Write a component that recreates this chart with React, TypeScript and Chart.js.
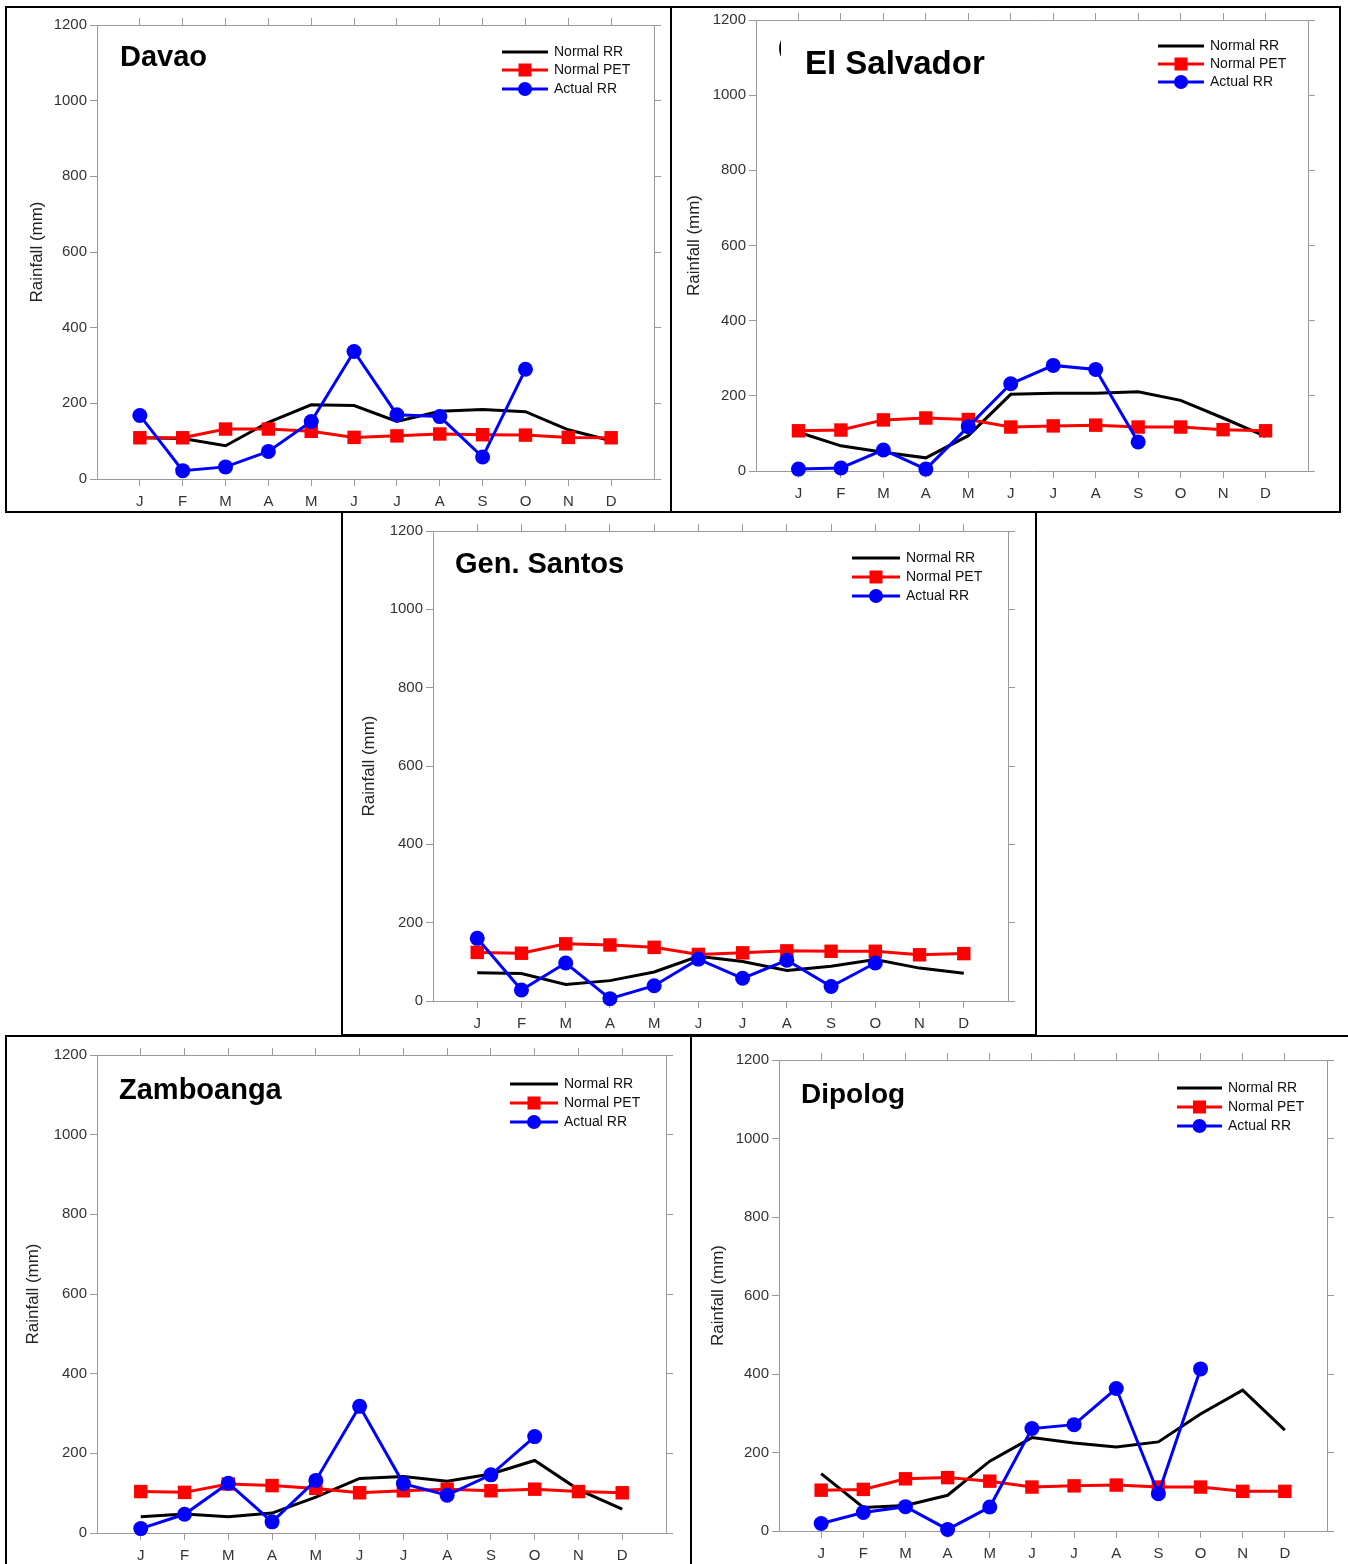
import React, { useEffect, useRef } from "react";
import { Chart, registerables } from "chart.js";

Chart.register(...registerables);

const FONT = '"Liberation Sans", Arial, Helvetica, sans-serif';

const months = ["J", "F", "M", "A", "M", "J", "J", "A", "S", "O", "N", "D"];
const yTicks = [0, 200, 400, 600, 800, 1000, 1200];
const legendLabels = ["Normal RR", "Normal PET", "Actual RR"];
const yTitle = "Rainfall (mm)";

const davaoNormalRR = [109, 107, 88, 150, 196, 194, 152, 179, 184, 178, 130, 101];
const davaoNormalPET = [109, 109, 132, 132, 126, 110, 114, 119, 117, 116, 110, 109];
const davaoActualRR = [168, 22, 32, 73, 152, 337, 170, 165, 58, 290];

const salvadorNormalRR = [103, 67, 50, 35, 94, 204, 207, 207, 211, 188, 141, 92];
const salvadorNormalPET = [107, 109, 136, 141, 137, 117, 120, 122, 117, 117, 110, 107];
const salvadorActualRR = [5, 8, 56, 5, 118, 232, 281, 270, 77];

const santosNormalRR = [72, 70, 42, 52, 74, 114, 101, 78, 89, 106, 84, 71];
const santosNormalPET = [124, 122, 146, 143, 137, 119, 123, 128, 127, 127, 118, 121];
const santosActualRR = [160, 28, 97, 6, 39, 107, 58, 104, 37, 97];

const zamboNormalRR = [41, 48, 41, 50, 90, 137, 142, 130, 148, 182, 109, 60];
const zamboNormalPET = [104, 102, 123, 119, 112, 101, 106, 110, 106, 110, 104, 101];
const zamboActualRR = [11, 47, 125, 28, 132, 318, 124, 95, 146, 242];

const dipologNormalRR = [146, 60, 65, 91, 178, 238, 224, 214, 227, 298, 359, 257];
const dipologNormalPET = [104, 106, 133, 136, 127, 112, 115, 117, 112, 112, 101, 101];
const dipologActualRR = [19, 47, 62, 4, 61, 261, 271, 363, 95, 413];

type PanelCfg = {
  name: string;
  box: [number, number, number, number];
  plot: [number, number, number, number];
  ylabelX: number;
  titleX: number;
  titleBase: number;
  titleSize: number;
  legX0: number;
  legX1: number;
  legTextX: number;
  legY: number[];
  normalRR: number[];
  normalPET: number[];
  actualRR: number[];
  stray?: boolean;
};

const panels: PanelCfg[] = [
  {
    name: "Davao", box: [5, 6, 672, 513], plot: [97, 25, 654, 479],
    ylabelX: 37, titleX: 120, titleBase: 66, titleSize: 29,
    legX0: 502, legX1: 548, legTextX: 554, legY: [52, 70, 89],
    normalRR: davaoNormalRR, normalPET: davaoNormalPET, actualRR: davaoActualRR,
  },
  {
    name: "El Salvador", box: [670, 6, 1341, 513], plot: [756, 19, 1308, 471],
    ylabelX: 694, titleX: 805, titleBase: 74, titleSize: 33,
    legX0: 1158, legX1: 1204, legTextX: 1210, legY: [46, 64, 82],
    normalRR: salvadorNormalRR, normalPET: salvadorNormalPET, actualRR: salvadorActualRR,
    stray: true,
  },
  {
    name: "Gen. Santos", box: [341, 511, 1037, 1036], plot: [433, 531, 1008, 1001],
    ylabelX: 369, titleX: 455, titleBase: 573, titleSize: 29,
    legX0: 852, legX1: 900, legTextX: 906, legY: [558, 577, 596],
    normalRR: santosNormalRR, normalPET: santosNormalPET, actualRR: santosActualRR,
  },
  {
    name: "Zamboanga", box: [5, 1035, 692, 1580], plot: [97, 1055, 666, 1533],
    ylabelX: 33, titleX: 119, titleBase: 1099, titleSize: 29,
    legX0: 510, legX1: 558, legTextX: 564, legY: [1084, 1103, 1122],
    normalRR: zamboNormalRR, normalPET: zamboNormalPET, actualRR: zamboActualRR,
  },
  {
    name: "Dipolog", box: [690, 1035, 1362, 1580], plot: [779, 1060, 1327, 1531],
    ylabelX: 718, titleX: 801, titleBase: 1103, titleSize: 28,
    legX0: 1177, legX1: 1222, legTextX: 1228, legY: [1088, 1107, 1126],
    normalRR: dipologNormalRR, normalPET: dipologNormalPET, actualRR: dipologActualRR,
  },
];

const BORDER = 2;
const AXIS_GRAY = "#9a9a9a";
const TEXT_COL = "#333";

const decoPlugin = {
  id: "deco",
  afterDraw(chart: any, _args: any, opts: any) {
    const p: PanelCfg = opts.panel;
    const ox = p.box[0] + BORDER;
    const oy = p.box[1] + BORDER;
    const ctx: CanvasRenderingContext2D = chart.ctx;
    const area = chart.chartArea;

    // y-axis title
    ctx.save();
    ctx.fillStyle = "#222";
    ctx.font = `17px ${FONT}`;
    ctx.translate(p.ylabelX - ox, (area.top + area.bottom) / 2);
    ctx.rotate(-Math.PI / 2);
    ctx.textAlign = "center";
    ctx.textBaseline = "middle";
    ctx.fillText(yTitle, 0, 0);
    ctx.restore();

    // stray glyph
    if (p.stray) {
      ctx.save();
      ctx.beginPath();
      ctx.rect(p.titleX - 30 - ox, 30 - oy, 6, 40);
      ctx.clip();
      ctx.fillStyle = "#000";
      ctx.font = `bold 22px ${FONT}`;
      ctx.textBaseline = "alphabetic";
      ctx.fillText("(", p.titleX - 27 - ox, 54 - oy);
      ctx.restore();
    }

    // title
    ctx.save();
    ctx.fillStyle = "#000";
    ctx.font = `bold ${p.titleSize}px ${FONT}`;
    ctx.textAlign = "left";
    ctx.textBaseline = "alphabetic";
    ctx.fillText(p.name, p.titleX - ox, p.titleBase - oy);
    ctx.restore();

    // legend
    const colors = ["#000000", "#ff0000", "#0000ff"];
    for (let i = 0; i < 3; i++) {
      const y = p.legY[i] - oy;
      const x0 = p.legX0 - ox;
      const x1 = p.legX1 - ox;
      ctx.save();
      ctx.strokeStyle = colors[i];
      ctx.fillStyle = colors[i];
      ctx.lineWidth = 3;
      ctx.beginPath();
      ctx.moveTo(x0, y);
      ctx.lineTo(x1, y);
      ctx.stroke();
      const cx = (x0 + x1) / 2;
      if (i === 1) {
        ctx.fillRect(cx - 6.5, y - 6.5, 13, 13);
      } else if (i === 2) {
        ctx.beginPath();
        ctx.arc(cx, y, 7, 0, Math.PI * 2);
        ctx.fill();
      }
      ctx.fillStyle = "#111";
      ctx.font = `14px ${FONT}`;
      ctx.textAlign = "left";
      ctx.textBaseline = "middle";
      ctx.fillText(legendLabels[i], p.legTextX - ox, y);
      ctx.restore();
    }
  },
};

function buildChart(canvas: HTMLCanvasElement, p: PanelCfg) {
  const cl = p.box[0] + BORDER;
  const ct = p.box[1] + BORDER;
  const cw = p.box[2] - p.box[0] - 2 * BORDER;
  const ch = p.box[3] - p.box[1] - 2 * BORDER;
  const leftW = p.plot[0] - cl;
  const rightW = cl + cw - p.plot[2];
  const topH = p.plot[1] - ct;
  const botH = ct + ch - p.plot[3];

  const toPts = (arr: number[]) => arr.map((v, i) => ({ x: i + 1, y: v }));

  const grid = {
    drawOnChartArea: false,
    drawTicks: true,
    tickLength: 7,
    color: AXIS_GRAY,
    lineWidth: 1,
  };
  const border = { color: AXIS_GRAY, width: 1 };
  const monthTicks = (s: any) => {
    s.ticks = months.map((_, i) => ({ value: i + 1 }));
  };
  const valueTicks = (s: any) => {
    s.ticks = yTicks.map((v) => ({ value: v }));
  };

  return new Chart(canvas, {
    type: "line",
    data: {
      datasets: [
        {
          label: legendLabels[0],
          data: toPts(p.normalRR),
          borderColor: "#000",
          borderWidth: 3,
          pointRadius: 0,
          tension: 0,
          order: 3,
          clip: false,
        },
        {
          label: legendLabels[1],
          data: toPts(p.normalPET),
          borderColor: "#ff0000",
          backgroundColor: "#ff0000",
          borderWidth: 3,
          pointStyle: "rect",
          pointRadius: 9.5,
          pointBorderWidth: 0,
          pointBackgroundColor: "#ff0000",
          tension: 0,
          order: 2,
          clip: false,
        },
        {
          label: legendLabels[2],
          data: toPts(p.actualRR),
          borderColor: "#0000ff",
          backgroundColor: "#0000ff",
          borderWidth: 3,
          pointStyle: "circle",
          pointRadius: 7.5,
          pointBorderWidth: 0,
          pointBackgroundColor: "#0000ff",
          tension: 0,
          order: 1,
          clip: false,
        },
      ],
    },
    options: {
      animation: false,
      responsive: false,
      devicePixelRatio: 1,
      layout: { padding: 0 },
      plugins: {
        legend: { display: false },
        tooltip: { enabled: false },
        title: { display: false },
        deco: { panel: p },
      } as any,
      scales: {
        x: {
          type: "linear",
          position: "bottom",
          min: 0,
          max: 13,
          afterBuildTicks: monthTicks,
          afterFit: (s: any) => { s.height = botH; },
          ticks: {
            callback: (v: any) => months[Number(v) - 1] ?? "",
            color: TEXT_COL,
            font: { size: 15, family: FONT },
            padding: 7,
            autoSkip: false,
            maxRotation: 0,
            minRotation: 0,
          },
          grid,
          border,
        },
        x2: {
          type: "linear",
          position: "top",
          min: 0,
          max: 13,
          afterBuildTicks: monthTicks,
          afterFit: (s: any) => { s.height = topH; },
          ticks: { display: false },
          grid,
          border,
        },
        y: {
          type: "linear",
          position: "left",
          min: 0,
          max: 1200,
          afterBuildTicks: valueTicks,
          afterFit: (s: any) => { s.width = leftW; },
          ticks: {
            callback: (v: any) => String(v),
            color: TEXT_COL,
            font: { size: 15, family: FONT },
            padding: 3,
          },
          grid,
          border,
        },
        y2: {
          type: "linear",
          position: "right",
          min: 0,
          max: 1200,
          afterBuildTicks: valueTicks,
          afterFit: (s: any) => { s.width = rightW; },
          ticks: { display: false },
          grid,
          border,
        },
      } as any,
    },
    plugins: [decoPlugin as any],
  });
}

function Panel({ p }: { p: PanelCfg }) {
  const ref = useRef<HTMLCanvasElement>(null);
  useEffect(() => {
    if (!ref.current) return;
    const c = buildChart(ref.current, p);
    return () => c.destroy();
  }, [p]);
  const w = p.box[2] - p.box[0];
  const h = p.box[3] - p.box[1];
  return (
    <div
      style={{
        position: "absolute",
        left: p.box[0],
        top: p.box[1],
        width: w,
        height: h,
        border: `${BORDER}px solid #000`,
        boxSizing: "border-box",
        background: "#fff",
      }}
    >
      <canvas
        ref={ref}
        width={w - 2 * BORDER}
        height={h - 2 * BORDER}
        style={{ position: "absolute", left: 0, top: 0, width: w - 2 * BORDER, height: h - 2 * BORDER }}
      />
    </div>
  );
}

export default function App() {
  return (
    <div
      style={{
        position: "absolute",
        left: 0,
        top: 0,
        width: 1348,
        height: 1564,
        overflow: "hidden",
        background: "#fff",
      }}
    >
      {panels.map((p) => (
        <Panel key={p.name} p={p} />
      ))}
    </div>
  );
}
